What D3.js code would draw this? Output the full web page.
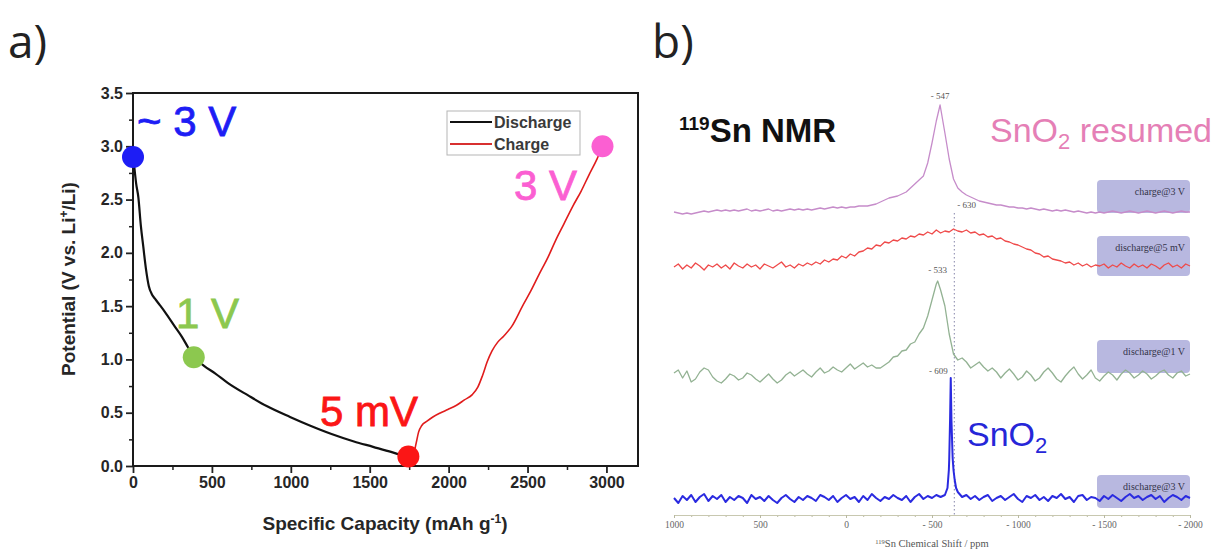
<!DOCTYPE html>
<html>
<head>
<meta charset="utf-8">
<script src="https://cdn.jsdelivr.net/npm/d3@7"></script>
<style>
  body { margin: 0; background: #fff; }
  svg { display: block; }
</style>
</head>
<body>
<svg id="fig" width="1217" height="550"></svg>
<script>
// ---- panel a: galvanostatic discharge / charge profile ----
var dischargeCap = [0, 10, 20, 34, 50, 65, 82, 100, 120, 139, 170, 205, 260, 311, 350, 389, 450, 520, 600, 732, 850, 995, 1120, 1258, 1400, 1521, 1640, 1745];
var dischargeV   = [2.92, 2.78, 2.65, 2.52, 2.25, 2.06, 1.85, 1.69, 1.61, 1.57, 1.51, 1.44, 1.32, 1.21, 1.11, 1.02, 0.94, 0.87, 0.78, 0.66, 0.56, 0.46, 0.38, 0.30, 0.23, 0.18, 0.13, 0.08];

var chargeCap = [1760, 1780, 1795, 1810, 1830, 1863, 1900, 1950, 1995, 2050, 2100, 2150, 2185, 2215, 2245, 2275, 2310, 2350, 2400, 2468, 2520, 2574, 2630, 2679, 2730, 2784, 2840, 2889, 2940, 2975];
var chargeV   = [0.06, 0.12, 0.22, 0.32, 0.38, 0.42, 0.46, 0.50, 0.53, 0.57, 0.62, 0.67, 0.74, 0.85, 0.98, 1.08, 1.16, 1.22, 1.31, 1.50, 1.64, 1.80, 1.96, 2.12, 2.27, 2.43, 2.58, 2.73, 2.88, 3.00];

// state points where NMR samples were taken
var pointLabels = ["~ 3 V", "1 V", "5 mV", "3 V"];
var pointCap    = [0, 385, 1745, 2975];
var pointV      = [2.9, 1.02, 0.09, 3.0];
var pointColors = ["#1d1df5", "#8cc84f", "#fb1616", "#fb5fd2"];

var capTicks = [0, 500, 1000, 1500, 2000, 2500, 3000];
var potTicks = [0, 0.5, 1.0, 1.5, 2.0, 2.5, 3.0, 3.5];

// ---- panel b: 119Sn NMR spectra (1000 .. -2000 ppm, 25 ppm steps) ----
var shifts = d3.range(1000, -2001, -25);

var chargeSpec = [1, 0, -1, 0, -1, 0, 1, 2, 1, 2,
  3, 2, 3, 2, 3, 2, 3, 4, 2, 3,
  2, 3, 4, 2, 3, 2, 3, 4, 3, 4,
  3, 4, 3, 4, 5, 4, 5, 6, 5, 6,
  5, 6, 6, 7, 7, 7, 8, 9, 11, 13,
  15, 16, 17, 19, 21, 25, 29, 33, 37, 50,
  70, 92, 105, 80, 54, 34, 25, 21, 18, 16,
  14, 12, 11, 10, 9, 8, 8, 7, 6, 6,
  5, 5, 4, 5, 4, 3, 4, 3, 2, 3,
  2, 3, 2, 1, 2, 1, 0, 1, 0, 1,
  0, 1, 2, 1, 0, 1, 2, 1, 0, 1,
  2, 1, 0, 1, 2, 1, 0, 1, 2, 1, 1];
var chargePeak = [[-547, 108]];

var dis5Spec = [1, 4, -1, 3, 0, 5, 2, -2, 3, 1,
  4, 0, 3, -1, 5, 2, 0, 4, 1, 3,
  -1, 4, 2, 0, 3, 6, 1, 3, 0, 4,
  2, 5, 3, 6, 4, 8, 6, 9, 8, 12,
  10, 14, 12, 16, 17, 20, 19, 23, 22, 26,
  25, 28, 27, 30, 29, 32, 31, 34, 33, 36,
  34, 38, 35, 37, 36, 39, 37, 36, 38, 35,
  36, 33, 34, 31, 32, 29, 30, 27, 26, 24,
  23, 21, 19, 18, 15, 14, 11, 12, 9, 8,
  7, 5, 6, 3, 5, 2, 4, 1, 3, 2,
  4, 0, 3, 1, 5, 2, 0, 4, 1, 3,
  0, 4, 2, -1, 3, 5, 1, 3, 0, 4, 2];
var dis5Peak = [];

var dis1Spec = [3, 6, -2, 5, -6, -3, 4, 8, 6, -1,
  -5, -7, -3, 2, 0, -4, -2, 3, 1, -3,
  -6, -2, 2, -3, -7, -4, 1, 4, 0, 3,
  6, 2, -1, 4, 8, 3, 5, 9, 6, 4,
  8, 12, 7, 10, 13, 9, 11, 8, 8, 11,
  14, 19, 20, 25, 26, 32, 34, 42, 48, 60,
  76, 92, 86, 70, 42, 22, 16, 18, 14, 8,
  11, 14, 9, 5, 8, 4, -2, 3, 7, 2,
  -4, -1, 5, 1, -5, -2, 4, 8, 3, -3,
  -6, 0, 5, 9, 2, -3, 1, 6, -2, -5,
  0, 4, 1, -4, 2, 6, 3, -2, 1, 5,
  2, -3, 0, 4, 6, 1, -2, 3, 5, 0, 2];
var dis1Peak = [[-533, 95]];

var dis3Spec = [2, -3, 4, 0, 5, -2, 3, 6, -1, 4,
  1, 5, -2, 3, 0, 4, 2, -3, 5, 1,
  3, -1, 4, 0, -3, 2, 5, 1, -2, 3,
  0, 4, 2, -1, 5, 3, 0, 4, -2, 2,
  5, 1, 3, -2, 4, 0, 6, 2, -1, 3,
  1, 5, 2, 0, 4, -2, 3, 6, 1, 4,
  2, 5, 3, 5, 40, 30, 8, 3, 5, 1,
  4, 0, 3, 5, -1, 2, 4, 0, 3, 6,
  1, -2, 4, 2, 5, 0, 3, -1, 4, 2,
  6, 1, 3, -2, 4, 5, 0, 3, 2, -1,
  4, 1, 5, 2, -1, 3, 6, 2, 4, 0,
  3, 5, 1, 4, -2, 2, 5, 3, 0, 4, 2];
var dis3Peak = [[-590, 12], [-598, 30], [-605, 80], [-609, 122], [-613, 80], [-620, 42], [-632, 20], [-640, 12]];

var specNames  = ["charge@3 V", "discharge@5 mV", "discharge@1 V", "discharge@3 V"];
var peakShifts = [-547, -630, -533, -609];
var shiftTicks = [1000, 500, 0, -500, -1000, -1500, -2000];

var svg = d3.select("#fig");
svg.append("rect").attr("width", 1217).attr("height", 550).attr("fill", "#fff");

// panel letters
svg.append("text").attr("x", 8).attr("y", 58)
  .style("font-family", "Open Sans").style("font-size", "46px").attr("fill", "#222").text("a)");
svg.append("text").attr("x", 652).attr("y", 58)
  .style("font-family", "Open Sans").style("font-size", "46px").attr("fill", "#222").text("b)");

// ========== panel a ==========
var x = d3.scaleLinear().domain([0, 3200]).range([133, 638]);
var y = d3.scaleLinear().domain([0, 3.5]).range([466, 93]);

var ga = svg.append("g");

// minor ticks
ga.append("g").attr("transform", "translate(0,466)")
  .call(d3.axisBottom(x).tickValues(d3.range(250, 3200, 500)).tickSize(4).tickFormat(""))
  .call(function(g){ g.select(".domain").remove(); g.selectAll("line").attr("stroke", "#222").attr("stroke-width", 1.5); });
ga.append("g").attr("transform", "translate(133,0)")
  .call(d3.axisLeft(y).tickValues(d3.range(0.25, 3.5, 0.5)).tickSize(4).tickFormat(""))
  .call(function(g){ g.select(".domain").remove(); g.selectAll("line").attr("stroke", "#222").attr("stroke-width", 1.5); });

var xAxis = ga.append("g").attr("transform", "translate(0,466)")
  .call(d3.axisBottom(x).tickValues(capTicks).tickSize(7).tickPadding(4).tickFormat(d3.format("d")));
var yAxis = ga.append("g").attr("transform", "translate(133,0)")
  .call(d3.axisLeft(y).tickValues(potTicks).tickSize(7).tickPadding(3).tickFormat(d3.format(".1f")));
[xAxis, yAxis].forEach(function(g){
  g.select(".domain").remove();
  g.selectAll("line").attr("stroke", "#222").attr("stroke-width", 1.8);
  g.selectAll("text").style("font-family", "Liberation Sans").style("font-weight", "bold")
    .style("font-size", "16px").attr("fill", "#262626");
});

// frame
ga.append("rect").attr("x", 133).attr("y", 93).attr("width", 505).attr("height", 373)
  .attr("fill", "none").attr("stroke", "#1a1a1a").attr("stroke-width", 2);

// axis titles
var xt = ga.append("text").attr("x", 385).attr("y", 530).attr("text-anchor", "middle")
  .style("font-family", "Liberation Sans").style("font-weight", "bold").style("font-size", "19px").attr("fill", "#262626");
xt.append("tspan").text("Specific Capacity (mAh g");
xt.append("tspan").attr("dy", -7).style("font-size", "12px").text("-1");
xt.append("tspan").attr("dy", 7).text(")");

var yt = ga.append("text").attr("transform", "translate(75,279) rotate(-90)").attr("text-anchor", "middle")
  .style("font-family", "Liberation Sans").style("font-weight", "bold").style("font-size", "19px").attr("fill", "#262626");
yt.append("tspan").text("Potential (V vs. Li");
yt.append("tspan").attr("dy", -7).style("font-size", "12px").text("+");
yt.append("tspan").attr("dy", 7).text("/Li)");

// curves
var line = d3.line().x(function(d){ return x(d[0]); }).y(function(d){ return y(d[1]); }).curve(d3.curveMonotoneX);
ga.append("path").datum(d3.zip(dischargeCap, dischargeV)).attr("d", line)
  .attr("fill", "none").attr("stroke", "#111").attr("stroke-width", 2.2);
ga.append("path").datum(d3.zip(chargeCap, chargeV)).attr("d", line)
  .attr("fill", "none").attr("stroke", "#e01c1c").attr("stroke-width", 1.6);

// legend
var lg = ga.append("g");
lg.append("rect").attr("x", 447).attr("y", 111).attr("width", 133).attr("height", 44)
  .attr("fill", "#fff").attr("stroke", "#b5b5b5").attr("stroke-width", 1);
[["Discharge", "#111", 122], ["Charge", "#d83030", 144]].forEach(function(l){
  lg.append("line").attr("x1", 450).attr("x2", 492).attr("y1", l[2]).attr("y2", l[2])
    .attr("stroke", l[1]).attr("stroke-width", 2.2);
  lg.append("text").attr("x", 494).attr("y", l[2] + 5.5).text(l[0])
    .style("font-family", "Liberation Sans").style("font-weight", "bold").style("font-size", "16px").attr("fill", "#3a3a3a");
});

// state point markers and labels
var labelPos = [[137, 136], [176, 328], [320, 426], [514, 200]];
ga.selectAll("circle.pt").data(pointCap).enter().append("circle").attr("class", "pt")
  .attr("cx", function(d){ return x(d); })
  .attr("cy", function(d, i){ return y(pointV[i]); })
  .attr("r", 11)
  .attr("fill", function(d, i){ return pointColors[i]; });
ga.selectAll("text.pt").data(pointLabels).enter().append("text").attr("class", "pt")
  .attr("x", function(d, i){ return labelPos[i][0]; })
  .attr("y", function(d, i){ return labelPos[i][1]; })
  .style("font-family", "Liberation Sans").style("font-size", "42px")
  .attr("fill", function(d, i){ return pointColors[i]; })
  .attr("stroke", function(d, i){ return pointColors[i]; }).attr("stroke-width", 0.8)
  .text(function(d){ return d; });

// ========== panel b ==========
var sx = d3.scaleLinear().domain([1000, -2000]).range([674, 1190]);
var amp = d3.scaleLinear().domain([0, 100]).range([0, 100]);

var gb = svg.append("g");

var specs = [
  { vals: chargeSpec, peak: chargePeak, base: 213, color: "#c68cca", w: 1.3 },
  { vals: dis5Spec,   peak: dis5Peak,   base: 268, color: "#ef4a4a", w: 1.3 },
  { vals: dis1Spec,   peak: dis1Peak,   base: 376, color: "#93b293", w: 1.3 },
  { vals: dis3Spec,   peak: dis3Peak,   base: 500, color: "#2a2ae0", w: 2 }
];
var boxTop = [180, 236, 340, 475];
var boxH   = [33, 40, 33, 33];

// sample tags
gb.selectAll("rect.tag").data(specNames).enter().append("rect").attr("class", "tag")
  .attr("x", 1097).attr("width", 93)
  .attr("y", function(d, i){ return boxTop[i]; })
  .attr("height", function(d, i){ return boxH[i]; })
  .attr("rx", 4).attr("fill", "#b8b8e0");
gb.selectAll("text.tag").data(specNames).enter().append("text").attr("class", "tag")
  .attr("x", 1185).attr("y", function(d, i){ return boxTop[i] + 15; })
  .attr("text-anchor", "end")
  .style("font-family", "Liberation Serif").style("font-size", "10px").attr("fill", "#34344a")
  .text(function(d){ return d; });

// dotted reference at -630 ppm
gb.append("line").attr("x1", sx(-630)).attr("x2", sx(-630)).attr("y1", 213).attr("y2", 515)
  .attr("stroke", "#9a9ab8").attr("stroke-width", 1.2).attr("stroke-dasharray", "1.5,2.5");

var specLine = d3.line().x(function(d){ return sx(d[0]); }).y(function(d){ return d[1]; });
specs.forEach(function(s){
  var pts = d3.zip(shifts, s.vals).concat(s.peak)
    .sort(function(a, b){ return b[0] - a[0]; })
    .map(function(d){ return [d[0], s.base - amp(d[1])]; });
  gb.append("path").datum(pts).attr("d", specLine)
    .attr("fill", "none").attr("stroke", s.color).attr("stroke-width", s.w).attr("stroke-linejoin", "round");
});

// peak positions
var peakLabelPos = [[0, 99, "middle"], [3, 208, "start"], [0, 273, "middle"], [-3, 374, "end"]];
gb.selectAll("text.pk").data(peakShifts).enter().append("text").attr("class", "pk")
  .attr("x", function(d, i){ return sx(d) + peakLabelPos[i][0]; })
  .attr("y", function(d, i){ return peakLabelPos[i][1]; })
  .attr("text-anchor", function(d, i){ return peakLabelPos[i][2]; })
  .style("font-family", "Liberation Serif").style("font-size", "9px").attr("fill", "#555")
  .text(function(d){ return "- " + (-d); });

// shift axis
var minor = d3.range(1000, -2001, -100).filter(function(v){ return shiftTicks.indexOf(v) < 0; });
gb.append("g").attr("transform", "translate(0,515)")
  .call(d3.axisBottom(sx).tickValues(minor).tickSize(2).tickFormat(""))
  .call(function(g){ g.select(".domain").remove(); g.selectAll("line").attr("stroke", "#b8b8a0"); });
var bAxis = gb.append("g").attr("transform", "translate(0,515)")
  .call(d3.axisBottom(sx).tickValues(shiftTicks).tickSize(3).tickPadding(3)
    .tickFormat(function(d){ return d < 0 ? "- " + (-d) : d; }));
bAxis.select(".domain").attr("stroke", "#c8c8b0");
bAxis.selectAll("line").attr("stroke", "#b8b8a0");
bAxis.selectAll("text").style("font-family", "Liberation Serif").style("font-size", "9.5px").attr("fill", "#666");

var bt = gb.append("text").attr("x", 932).attr("y", 547).attr("text-anchor", "middle")
  .style("font-family", "Liberation Serif").style("font-size", "10.5px").attr("fill", "#555");
bt.append("tspan").attr("dy", -3).style("font-size", "6.5px").text("119");
bt.append("tspan").attr("dy", 3).text("Sn Chemical Shift / ppm");

// annotations
var nmr = gb.append("text").attr("x", 679).attr("y", 142)
  .style("font-family", "Liberation Sans").style("font-weight", "bold").style("font-size", "33px").attr("fill", "#111");
nmr.append("tspan").attr("dy", -12).style("font-size", "19px").text("119");
nmr.append("tspan").attr("dy", 12).text("Sn NMR");

var res = gb.append("text").attr("x", 990).attr("y", 142)
  .style("font-family", "Liberation Sans").style("font-size", "34px").attr("fill", "#e57fb6");
res.append("tspan").text("SnO");
res.append("tspan").attr("dy", 7).style("font-size", "22px").text("2");
res.append("tspan").attr("dy", -7).text(" resumed");

var sno = gb.append("text").attr("x", 967).attr("y", 446)
  .style("font-family", "Liberation Sans").style("font-size", "34px").attr("fill", "#2626d8");
sno.append("tspan").text("SnO");
sno.append("tspan").attr("dy", 7).style("font-size", "22px").text("2");
</script>
</body>
</html>
